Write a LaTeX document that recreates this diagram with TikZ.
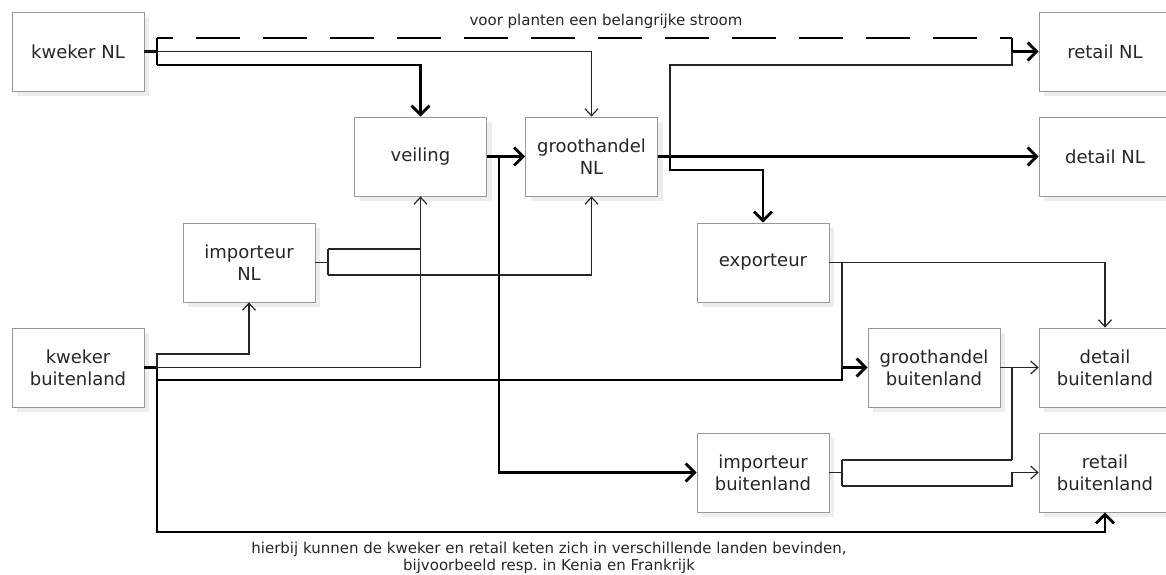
\documentclass[tikz,border=0pt]{standalone}
\usepackage{fontspec}
\setmainfont{DejaVu Sans}
\usetikzlibrary{arrows.meta,shadows}

\begin{document}
\begin{tikzpicture}[x=1pt, y=-1pt,
		blok/.style={draw=black!40, line width=0.8pt, fill=white, minimum width=132pt, minimum height=79pt,
			align=center, text=black!85, font=\fontsize{18}{22}\selectfont,
			drop shadow={shadow xshift=5pt, shadow yshift=-5pt, fill=black!7, opacity=1}},
		dun/.style={line width=1.2pt, black!85},
		dik/.style={line width=2.8pt, black},
		pijl/.style={-{Straight Barb[length=7pt,width=13pt]}},
		dikpijl/.style={-{Straight Barb[length=9pt,width=18pt]}},
		opm/.style={font=\fontsize{15}{17}\selectfont, text=black!85, align=center}]
		\useasboundingbox (0,0) rectangle (1166,574);
		\node[blok] (kNL) at (78,51.5) {kweker NL};
		\node[blok] (veil) at (420.5,156.5) {veiling};
		\node[blok] (ghNL) at (591.5,156.5) {groothandel\\NL};
		\node[blok] (rNL) at (1105,51.5) {retail NL};
		\node[blok] (dNL) at (1105,156.5) {detail NL};
		\node[blok] (iNL) at (249,262.5) {importeur\\NL};
		\node[blok] (exp) at (763,262.5) {exporteur};
		\node[blok] (kbu) at (78,367.5) {kweker\\buitenland};
		\node[blok] (gbu) at (934,367.5) {groothandel\\buitenland};
		\node[blok] (dbu) at (1105,367.5) {detail\\buitenland};
		\node[blok] (ibu) at (763,472.5) {importeur\\buitenland};
		\node[blok] (rbu) at (1105,472.5) {retail\\buitenland};
		\coordinate (a1) at (157,38);
		\coordinate (a2) at (157,65);
		\coordinate (c1) at (1012,38);
		\coordinate (c2) at (1012,65);
		\coordinate (g1) at (670,65);
		\coordinate (g2) at (670,170);
		\coordinate (v1) at (499,156.5);
		\coordinate (i1) at (328,249);
		\coordinate (i2) at (328,275);
		\coordinate (b0) at (157,367.5);
		\coordinate (b1) at (157,354);
		\coordinate (b2) at (157,380);
		\coordinate (b3) at (157,532);
		\coordinate (e1) at (842,262.5);
		\coordinate (e2) at (842,380);
		\coordinate (d1) at (1012,367.5);
		\coordinate (d2) at (1012,460);
		\coordinate (d3) at (1012,486);
		\coordinate (r1) at (842,460);
		\coordinate (r2) at (842,486);
		% kweker NL
		\draw[dik] (kNL.east) -- (kNL.east -| a1);
		\draw[dik] (a1) -- (a2);
		\draw[dik, dash pattern=on 44pt off 23pt, dash phase=28pt] (a1) -- (c1);
		\draw[dik, dikpijl] (c1) |- (rNL.west);
		\draw[dun, pijl] (kNL.east) -| (ghNL.north);
		\draw[dik, dikpijl] (a2) -| (veil.north);
		% veiling en groothandel NL
		\draw[dik, dikpijl] (veil.east) -- (ghNL.west);
		\draw[dik, dikpijl] (v1) |- (ibu.west);
		\draw[dik, dikpijl] (ghNL.east) -- (dNL.west);
		\draw[dun] (ghNL.east -| g1) -- (g1) -- (c2) -- (c1 |- rNL.west);
		\draw[dik, dikpijl] (ghNL.east -| g1) -- (g2) -| (exp.north);
		% importeur NL
		\draw[dun] (iNL.east) -- (iNL.east -| i1);
		\draw[dun] (i1) -- (i2);
		\draw[dun] (i1) -- (i1 -| veil.south);
		\draw[dun, pijl] (i2) -| (ghNL.south);
		% kweker buitenland
		\draw[dik] (kbu.east) -- (b0);
		\draw[dun, pijl] (b0) -- (b1) -| (iNL.south);
		\draw[dun, pijl] (b0) -| (veil.south);
		\draw[dik, dikpijl] (b0) -- (b2) -- (e2) |- (gbu.west);
		\draw[dik, dikpijl] (b0) -- (b3) -| (rbu.south);
		% exporteur
		\draw[dun, pijl] (exp.east) -| (dbu.north);
		\draw[dun] (e1) -- (e1 |- gbu.west);
		% groothandel buitenland
		\draw[dun, pijl] (gbu.east) -- (dbu.west);
		\draw[dun] (d1) -- (d2);
		% importeur buitenland
		\draw[dun] (ibu.east) -- (ibu.east -| r1);
		\draw[dun] (r1) -- (r2);
		\draw[dun] (r1) -- (d2);
		\draw[dun, pijl] (r2) -- (d3) |- (rbu.west);
		\node[opm] (boven) at (606,21) {voor planten een belangrijke stroom};
		\node[opm] (onder) at (549,558) {hierbij kunnen de kweker en retail keten zich in verschillende landen bevinden,\\bijvoorbeeld resp.\ in Kenia en Frankrijk};
	\end{tikzpicture}
\end{document}
